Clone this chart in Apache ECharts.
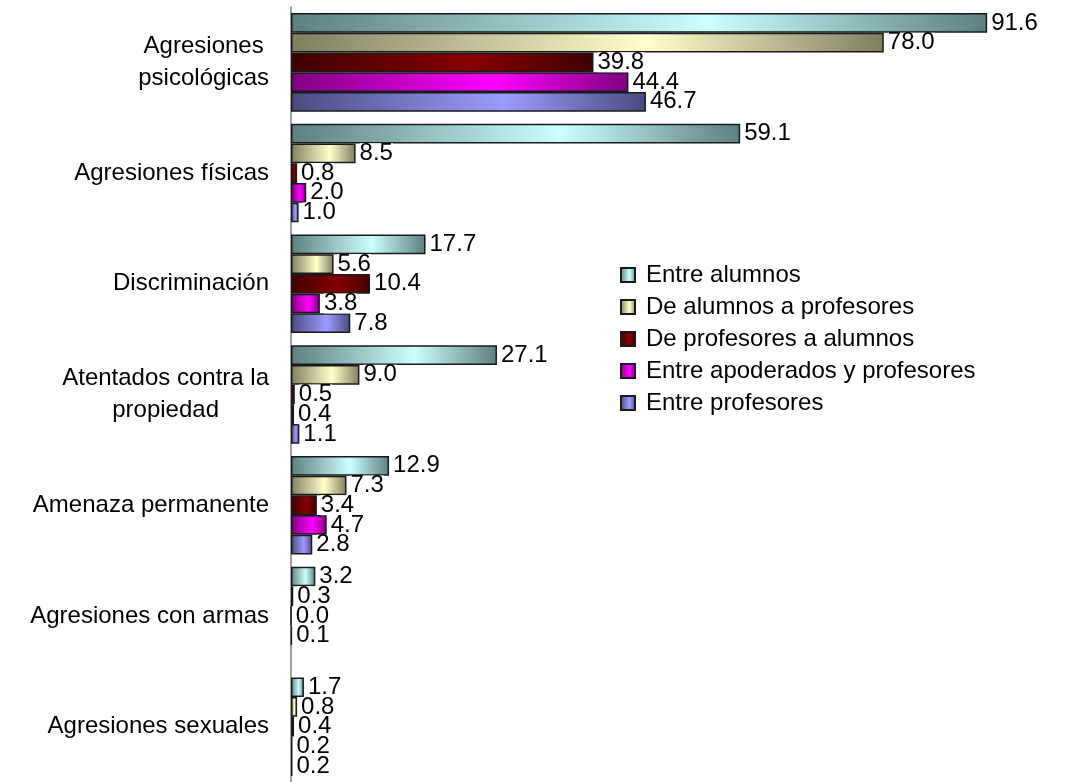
<!DOCTYPE html>
<html>
<head>
<meta charset="utf-8">
<script src="https://cdn.jsdelivr.net/npm/echarts@6/dist/echarts.min.js"></script>
<style>
  html, body { margin: 0; padding: 0; background: #fff; }
</style>
</head>
<body>
<div id="chart" :style="" style="width: 1065px; height: 782px;"></div>
<script>
const categories = [
    'Agresiones\npsicológicas',
    'Agresiones físicas',
    'Discriminación',
    'Atentados contra la\npropiedad',
    'Amenaza permanente',
    'Agresiones con armas',
    'Agresiones sexuales'
];
const seriesNames = [
    'Entre alumnos',
    'De alumnos a profesores',
    'De profesores a alumnos',
    'Entre apoderados y profesores',
    'Entre profesores'
];
const entreAlumnos = [91.6, 59.1, 17.7, 27.1, 12.9, 3.2, 1.7];
const alumnosAProfesores = [78.0, 8.5, 5.6, 9.0, 7.3, 0.3, 0.8];
const profesoresAAlumnos = [39.8, 0.8, 10.4, 0.5, 3.4, 0.0, 0.4];
const apoderadosProfesores = [44.4, 2.0, 3.8, 0.4, 4.7, 0.1, 0.2];
const entreProfesores = [46.7, 1.0, 7.8, 1.1, 2.8, null, 0.2];

const font = '"Liberation Sans", Arial, sans-serif';

// dark edge / light middle, like the original 3D-ish fills
const palette = [
    ['#5b8080', '#ccffff'],
    ['#807f5e', '#ffffcc'],
    ['#400000', '#870000'],
    ['#800080', '#ff00ff'],
    ['#4a4a80', '#9c9cff']
];

function fill(pair) {
    return new echarts.graphic.LinearGradient(0, 0, 1, 0, [
        { offset: 0, color: pair[0] },
        { offset: 0.6, color: pair[1] },
        { offset: 1, color: pair[0] }
    ]);
}

// width of the longest line, so wrapped labels can be centred
const ctx = document.createElement('canvas').getContext('2d');
ctx.font = '24px ' + font;
function lineWidth(name) {
    return Math.max(...name.split('\n').map(l => ctx.measureText(l).width));
}
const rich = {};
categories.forEach((c, i) => {
    rich['c' + i] = { width: lineWidth(c), align: 'center', fontSize: 24, lineHeight: 32, fontFamily: font, color: '#000' };
});

const values = [entreAlumnos, alumnosAProfesores, profesoresAAlumnos, apoderadosProfesores, entreProfesores];

const option = {
    animation: false,
    grid: {
        left: 291,
        top: 7,
        width: 760,
        height: 779
    },
    legend: {
        orient: 'vertical',
        left: 615,
        top: 258,
        itemWidth: 14,
        itemHeight: 14,
        itemGap: 8,
        icon: 'rect',
        textStyle: {
            fontSize: 24,
            fontFamily: font,
            color: '#000',
            padding: [0, 0, 0, 6]
        },
        data: seriesNames
    },
    xAxis: {
        type: 'value',
        min: 0,
        max: 100,
        show: false
    },
    yAxis: {
        type: 'category',
        inverse: true,
        data: categories,
        axisLine: { lineStyle: { color: '#808080', width: 1.5 } },
        axisTick: { length: 6, lineStyle: { color: '#808080', width: 1.5 } },
        axisLabel: {
            margin: 22,
            formatter: function (v) {
                const i = categories.indexOf(v);
                return v.split('\n').map(l => '{c' + i + '|' + l + '}').join('\n');
            },
            rich: rich
        }
    },
    series: seriesNames.map((name, k) => ({
        name: name,
        type: 'bar',
        data: values[k],
        barGap: '0%',
        barCategoryGap: '11%',
        itemStyle: {
            color: fill(palette[k]),
            borderColor: '#1a1a1a',
            borderWidth: 1.5
        },
        label: {
            show: true,
            position: 'right',
            distance: 4,
            fontSize: 24,
            fontFamily: font,
            color: '#000',
            lineHeight: 20,
            backgroundColor: '#fff',
            formatter: function (p) {
                return p.value == null ? '' : p.value.toFixed(1);
            }
        }
    }))
};

let myChart = echarts.init(document.getElementById('chart'));
myChart.setOption(option);

window.onresize = function () {
    myChart.resize()
}
</script>
</body>
</html>
